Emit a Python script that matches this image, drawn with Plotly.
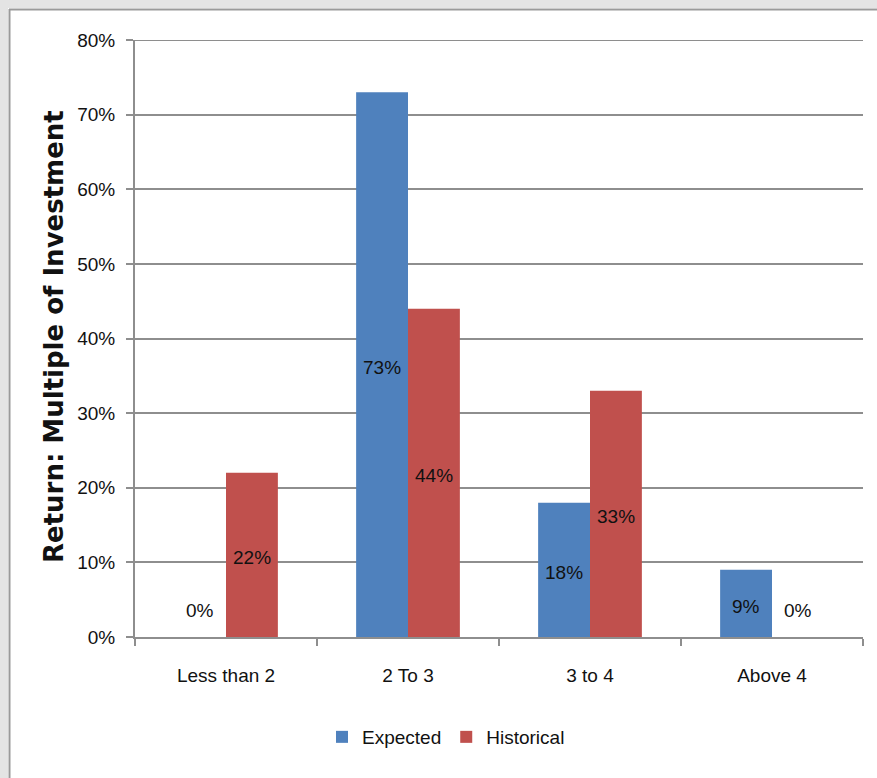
import plotly.graph_objects as go

# Return buckets (multiple of investment) and the share of deals in each
categories = ["Less than 2", "2 To 3", "3 to 4", "Above 4"]
expected = [0, 73, 18, 9]
historical = [22, 44, 33, 0]
y_ticks = [0, 10, 20, 30, 40, 50, 60, 70, 80]
y_tick_text = [f"{v}%" for v in y_ticks]

W, H = 877, 778
ML, MR, MT, MB = 135, 14, 40, 141
PW, PH = W - ML - MR, H - MT - MB

BLUE = "#4F81BD"
RED = "#C0504D"
GRID = "#8E8E8E"
FONT = "Liberation Sans, Arial, sans-serif"
TXT = "#111111"

fig = go.Figure()
fig.add_trace(go.Bar(name="Expected", x=categories, y=expected,
                     marker=dict(color=BLUE, line=dict(width=0))))
fig.add_trace(go.Bar(name="Historical", x=categories, y=historical,
                     marker=dict(color=RED, line=dict(width=0))))

# value labels centred in each bar; zero-height bars get their label just above the axis
annotations = []
for vals, shift in ((expected, -26), (historical, 26)):
    for cat, v in zip(categories, vals):
        annotations.append(dict(
            x=cat, y=(v / 2 if v > 0 else 3.9), xref="x", yref="y",
            text=f"{v}%", showarrow=False, xshift=shift, yshift=-3,
            font=dict(family=FONT, size=19, color=TXT)))


def px_x(px):
    return (px - ML) / PW


def px_y(py):
    return (H - MB - py) / PH


annotations.append(dict(
    x=px_x(54), y=px_y(337), xref="paper", yref="paper",
    text="<b>Return: Multiple of Investment</b>", textangle=-90, showarrow=False,
    xanchor="center", yanchor="middle",
    font=dict(family="DejaVu Sans, Verdana, sans-serif", size=26, color="#111111")))

# chart frame: light grey surround with a thin grey border
shapes = [
    dict(type="rect", xref="paper", yref="paper", layer="below",
         x0=px_x(0), x1=px_x(W), y0=px_y(0), y1=px_y(8),
         fillcolor="#E4E4E4", line=dict(width=0)),
    dict(type="rect", xref="paper", yref="paper", layer="below",
         x0=px_x(0), x1=px_x(8), y0=px_y(0), y1=px_y(H),
         fillcolor="#E4E4E4", line=dict(width=0)),
    dict(type="line", xref="paper", yref="paper", layer="below",
         x0=px_x(9), x1=px_x(W), y0=px_y(9.5), y1=px_y(9.5),
         line=dict(color="#9A9A9A", width=2)),
    dict(type="line", xref="paper", yref="paper", layer="below",
         x0=px_x(9.5), x1=px_x(9.5), y0=px_y(9), y1=px_y(H),
         line=dict(color="#9A9A9A", width=2)),
    # gridline at the top of the value range
    dict(type="line", xref="paper", yref="y", layer="below",
         x0=0, x1=1, y0=y_ticks[-1], y1=y_ticks[-1],
         line=dict(color=GRID, width=2)),
]

fig.update_layout(
    width=W, height=H, autosize=False,
    margin=dict(l=ML, r=MR, t=MT, b=MB),
    paper_bgcolor="white", plot_bgcolor="white",
    barmode="group", bargap=0.43, bargroupgap=0,
    font=dict(family=FONT, size=18, color=TXT),
    showlegend=True,
    legend=dict(orientation="h", x=px_x(446), y=px_y(737), xanchor="center", yanchor="middle",
                font=dict(family=FONT, size=19, color=TXT), itemwidth=30,
                tracegroupgap=0, bgcolor="rgba(0,0,0,0)"),
    annotations=annotations,
    shapes=shapes,
)

fig.update_xaxes(
    type="category", showline=True, linecolor=GRID, linewidth=2,
    ticks="outside", tickson="boundaries", ticklen=7, tickwidth=2, tickcolor=GRID,
    showgrid=False, ticklabelstandoff=20,
    tickfont=dict(family=FONT, size=19, color=TXT),
)
fig.update_yaxes(
    range=[0, 80], tickmode="array", tickvals=y_ticks, ticktext=y_tick_text,
    showline=True, linecolor=GRID, linewidth=2,
    ticks="outside", ticklen=7, tickwidth=2, tickcolor=GRID,
    showgrid=True, gridcolor=GRID, gridwidth=2, zeroline=False,
    ticklabelstandoff=7,
    tickfont=dict(family=FONT, size=19, color=TXT),
)

fig.write_html("out.html")
